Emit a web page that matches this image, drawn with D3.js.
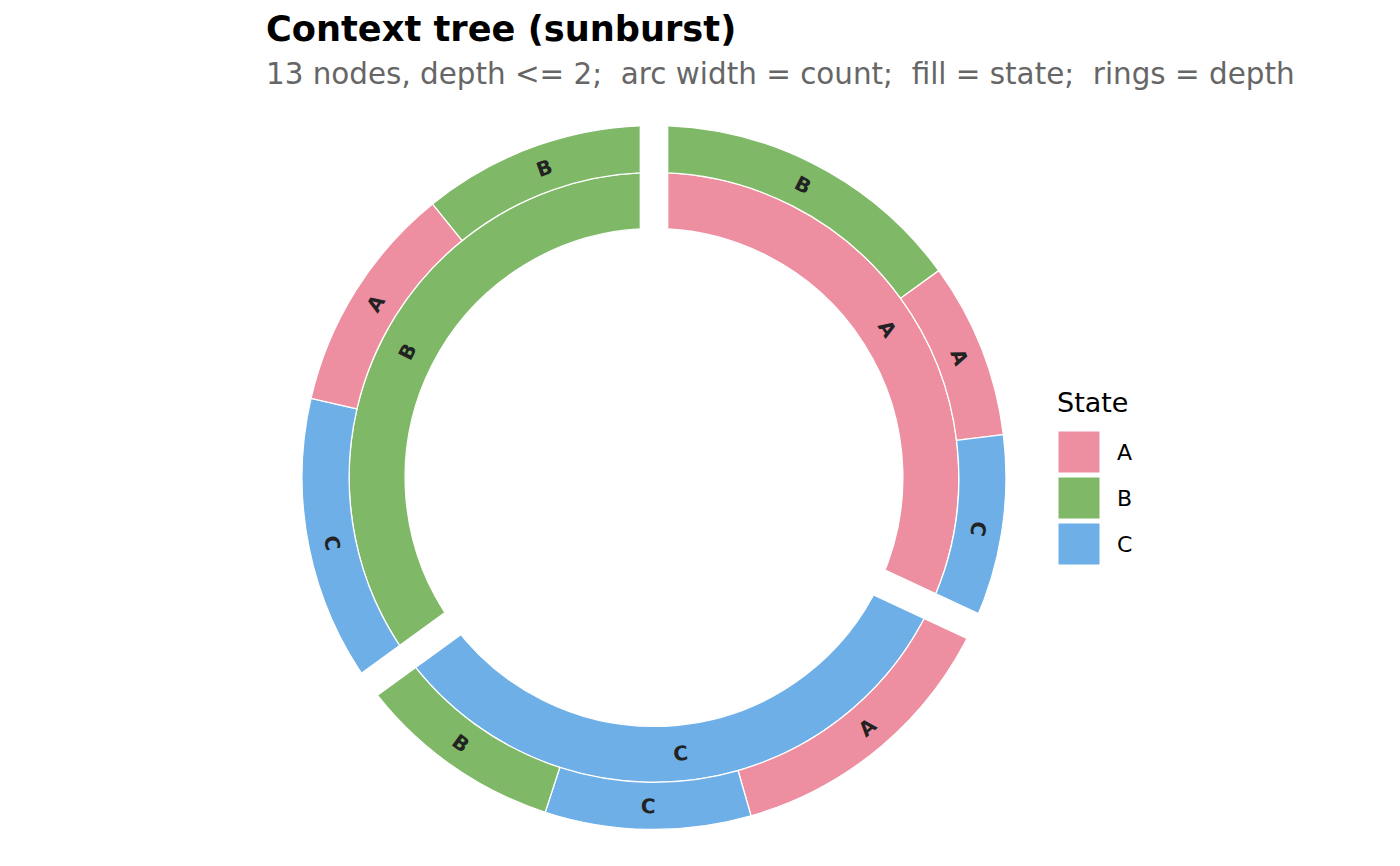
<!DOCTYPE html>
<html>
<head>
<meta charset="utf-8">
<script src="https://cdn.jsdelivr.net/npm/d3@7"></script>
<style>
  body { margin: 0; background: #fff; }
  text { font-family: "DejaVu Sans", sans-serif; }
</style>
</head>
<body>
<svg id="chart" width="1400" height="866"></svg>
<script>
// data (counts per context, order as drawn clockwise from 12 o'clock)
const states = ["A", "B", "C"];
const stateColors = ["#ED8FA1", "#7FB866", "#6DAFE6"];
const level1 = ["A", "C", "B"];
const childStates = [["B", "A", "C"], ["A", "C", "B"], ["C", "A", "B"]];
const childCounts = [[54, 29, 32], [49, 34, 36], [49, 38, 39]];

const width = 1400, height = 866;
const cx = 654, cy = 477.5, outerR = 352;
const gap = 28.7; // px between top-level groups

const svg = d3.select("#chart");
const color = d3.scaleOrdinal(states, stateColors);

const rootData = {
  name: "root",
  children: level1.map((s, i) => ({
    name: s,
    children: childStates[i].map((c, j) => ({name: c, value: childCounts[i][j]}))
  }))
};

const root = d3.hierarchy(rootData).sum(d => d.value || 0);
d3.partition().size([2 * Math.PI, 3])(root);

// sqrt radial scale; depth-1 ring sits at 2..3, depth-2 at 3..4
const r = d3.scaleSqrt().domain([0, 4]).range([0, outerR]);

const arc = d3.arc()
  .startAngle(d => d.x0)
  .endAngle(d => d.x1)
  .innerRadius(d => r(d.y0 + 1))
  .outerRadius(d => r(d.y1 + 1));

const padR = 300;
const clipArc = d3.arc()
  .innerRadius(200)
  .outerRadius(outerR + 20)
  .padRadius(padR)
  .padAngle(2 * Math.asin(gap / 2 / padR));

const g = svg.append("g").attr("transform", `translate(${cx},${cy})`);

const tops = root.children;
g.append("defs").selectAll("clipPath")
  .data(tops)
  .join("clipPath")
  .attr("id", (d, i) => "clip" + i)
  .append("path")
  .attr("d", d => clipArc({startAngle: d.x0, endAngle: d.x1}));

const nodes = root.descendants().filter(d => d.depth > 0);
const topIndex = d => tops.indexOf(d.depth === 1 ? d : d.parent);

g.append("g").selectAll("path")
  .data(nodes)
  .join("path")
  .attr("d", arc)
  .attr("clip-path", d => `url(#clip${topIndex(d)})`)
  .attr("fill", d => color(d.data.name))
  .attr("stroke", "#fff")
  .attr("stroke-width", 1.3);

// labels follow the tangent, flipped on the lower part so they read upright
g.append("g").selectAll("text")
  .data(nodes)
  .join("text")
  .attr("transform", d => {
    const a = (d.x0 + d.x1) / 2;
    const rm = (r(d.y0 + 1) + r(d.y1 + 1)) / 2;
    let deg = a * 180 / Math.PI;
    if (deg > 100 && deg < 280) deg -= 180;
    return `translate(${rm * Math.sin(a)},${-rm * Math.cos(a)}) rotate(${deg})`;
  })
  .attr("text-anchor", "middle")
  .attr("dy", "0.36em")
  .attr("font-weight", "bold")
  .attr("font-size", 20)
  .attr("fill", "#222")
  .text(d => d.data.name);

// titles
svg.append("text")
  .attr("x", 266).attr("y", 41)
  .attr("font-size", 35.2).attr("font-weight", "bold")
  .attr("fill", "#000")
  .text("Context tree (sunburst)");

svg.append("text")
  .attr("x", 266).attr("y", 84)
  .attr("font-size", 29.4)
  .attr("fill", "#666")
  .style("white-space", "pre")
  .text("13 nodes, depth <= 2;  arc width = count;  fill = state;  rings = depth");

// legend
const legend = svg.append("g").attr("transform", "translate(1058,0)");
legend.append("text")
  .attr("x", -1).attr("y", 412)
  .attr("font-size", 27)
  .text("State");

const keys = legend.selectAll("g.key")
  .data(states)
  .join("g")
  .attr("class", "key")
  .attr("transform", (d, i) => `translate(0,${431 + i * 46})`);

keys.append("rect")
  .attr("width", 42).attr("height", 42)
  .attr("fill", d => color(d))
  .attr("stroke", "#fff").attr("stroke-width", 1);

keys.append("text")
  .attr("x", 59).attr("y", 21)
  .attr("dy", "0.36em")
  .attr("font-size", 22)
  .text(d => d);
</script>
</body>
</html>
